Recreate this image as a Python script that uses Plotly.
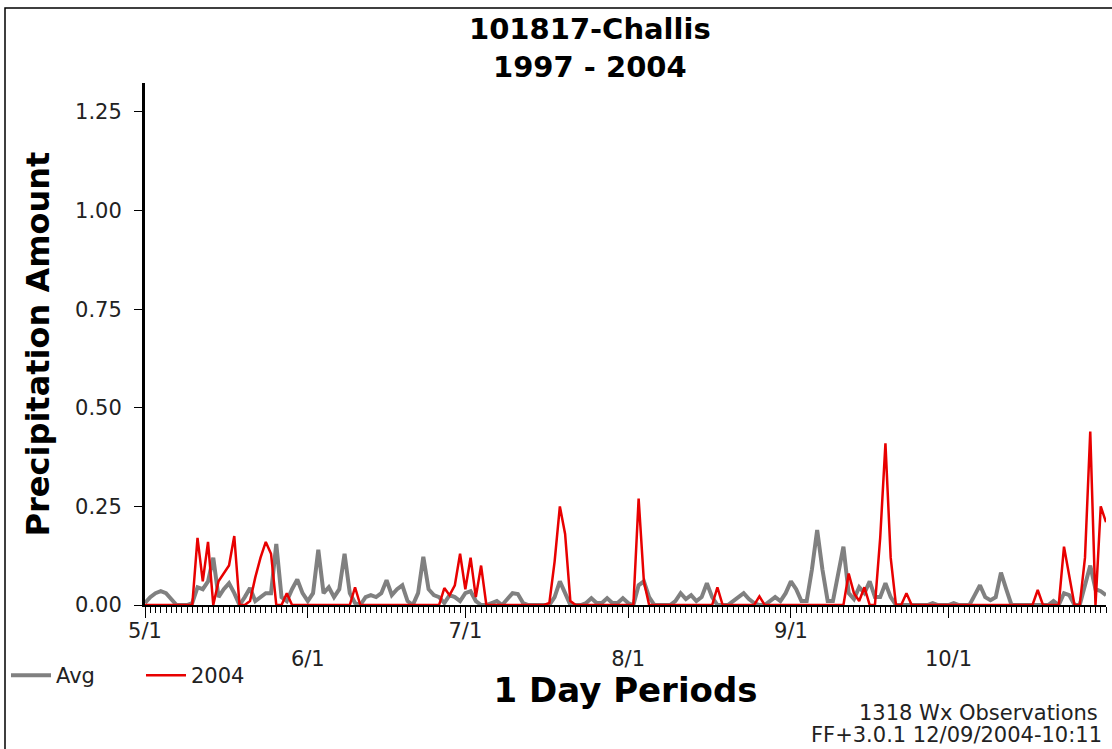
import plotly.graph_objects as go
import pandas as pd

# ---------------- data ----------------
start_date = "2004-05-01"
end_date = "2004-10-31"

avg_values = [
    0.005, 0.02, 0.03, 0.035, 0.03, 0.015, 0.0, 0.0, 0.0, 0.005,        # 0-9
    0.045, 0.04, 0.06, 0.12, 0.02, 0.04, 0.055, 0.03, 0.0, 0.02,         # 10-19
    0.043, 0.01, 0.02, 0.03, 0.03, 0.155, 0.02, 0.01, 0.04, 0.065,       # 20-29
    0.03, 0.01, 0.03, 0.14, 0.03, 0.045, 0.02, 0.04, 0.13, 0.03,         # 30-39
    0.005, 0.0, 0.02, 0.025, 0.02, 0.03, 0.063, 0.025, 0.04, 0.05,       # 40-49
    0.01, 0.0, 0.03, 0.122, 0.04, 0.025, 0.02, 0.005, 0.025, 0.02,       # 50-59
    0.01, 0.03, 0.035, 0.01, 0.0, 0.0, 0.005, 0.01, 0.0, 0.015,          # 60-69
    0.03, 0.028, 0.005, 0.0, 0.0, 0.0, 0.0, 0.0, 0.02, 0.06,             # 70-79
    0.03, 0.0, 0.0, 0.0, 0.005, 0.017, 0.005, 0.005, 0.017, 0.005,       # 80-89
    0.005, 0.017, 0.005, 0.0, 0.05, 0.06, 0.02, 0.0, 0.0, 0.0,           # 90-99
    0.0, 0.01, 0.03, 0.015, 0.025, 0.01, 0.02, 0.055, 0.02, 0.0,         # 100-109
    0.0, 0.0, 0.01, 0.02, 0.03, 0.015, 0.005, 0.0, 0.0, 0.01,            # 110-119
    0.02, 0.01, 0.03, 0.06, 0.04, 0.01, 0.01, 0.09, 0.19, 0.09,          # 120-129
    0.01, 0.01, 0.08, 0.148, 0.03, 0.015, 0.045, 0.03, 0.06, 0.02,       # 130-139
    0.02, 0.055, 0.02, 0.0, 0.0, 0.0, 0.0, 0.0, 0.0, 0.0,                # 140-149
    0.005, 0.0, 0.0, 0.0, 0.005, 0.0, 0.0, 0.0, 0.025, 0.05,             # 150-159
    0.02, 0.012, 0.02, 0.082, 0.04, 0.0, 0.0, 0.0, 0.0, 0.0,             # 160-169
    0.0, 0.0, 0.0, 0.01, 0.0, 0.03, 0.025, 0.0, 0.0, 0.05,               # 170-179
    0.1, 0.04, 0.035, 0.025,                                             # 180-183
]

values_2004 = [
    0.0, 0.0, 0.0, 0.0, 0.0, 0.0, 0.0, 0.0, 0.0, 0.0,                    # 0-9
    0.17, 0.06, 0.16, 0.0, 0.06, 0.08, 0.10, 0.175, 0.0, 0.0,            # 10-19
    0.01, 0.07, 0.12, 0.16, 0.13, 0.0, 0.0, 0.03, 0.0, 0.0,              # 20-29
    0.0, 0.0, 0.0, 0.0, 0.0, 0.0, 0.0, 0.0, 0.0, 0.0,                    # 30-39
    0.045, 0.0, 0.0, 0.0, 0.0, 0.0, 0.0, 0.0, 0.0, 0.0,                  # 40-49
    0.0, 0.0, 0.0, 0.0, 0.0, 0.0, 0.0, 0.043, 0.025, 0.05,               # 50-59
    0.13, 0.04, 0.12, 0.02, 0.10, 0.0, 0.0, 0.0, 0.0, 0.0,               # 60-69
    0.0, 0.0, 0.0, 0.0, 0.0, 0.0, 0.0, 0.005, 0.11, 0.25,                # 70-79
    0.18, 0.01, 0.0, 0.0, 0.0, 0.0, 0.0, 0.0, 0.0, 0.0,                  # 80-89
    0.0, 0.0, 0.0, 0.0, 0.27, 0.06, 0.0, 0.0, 0.0, 0.0,                  # 90-99
    0.0, 0.0, 0.0, 0.0, 0.0, 0.0, 0.0, 0.0, 0.0, 0.045,                  # 100-109
    0.0, 0.0, 0.0, 0.0, 0.0, 0.0, 0.0, 0.022, 0.0, 0.0,                  # 110-119
    0.0, 0.0, 0.0, 0.0, 0.0, 0.0, 0.0, 0.0, 0.0, 0.0,                    # 120-129
    0.0, 0.0, 0.0, 0.0, 0.08, 0.03, 0.01, 0.045, 0.0, 0.0,               # 130-139
    0.17, 0.41, 0.12, 0.0, 0.0, 0.03, 0.0, 0.0, 0.0, 0.0,                # 140-149
    0.0, 0.0, 0.0, 0.0, 0.0, 0.0, 0.0, 0.0, 0.0, 0.0,                    # 150-159
    0.0, 0.0, 0.0, 0.0, 0.0, 0.0, 0.0, 0.0, 0.0, 0.0,                    # 160-169
    0.038, 0.0, 0.0, 0.0, 0.0, 0.148, 0.07, 0.0, 0.0, 0.12,              # 170-179
    0.44, 0.0, 0.25, 0.21,                                               # 180-183
]

month_ticks = ["2004-05-01", "2004-06-01", "2004-07-01", "2004-08-01", "2004-09-01", "2004-10-01"]
month_labels = ["5/1", "<br>6/1", "7/1", "<br>8/1", "9/1", "<br>10/1"]
y_tick_values = [0.0, 0.25, 0.5, 0.75, 1.0, 1.25]
y_tick_labels = ["0.00", "0.25", "0.50", "0.75", "1.00", "1.25"]

dates = pd.date_range(start_date, end_date, freq="D")

# ---------------- figure ----------------
W, H = 1112, 749
L, R, T, B = 145, 6, 83, 144
pw, ph = W - L - R, H - T - B


def px(x):
    return (x - L) / pw


def py(y):
    return (H - B - y) / ph


FONT = "DejaVu Sans"

fig = go.Figure()
fig.add_trace(go.Scatter(x=dates, y=avg_values, name="Avg", mode="lines",
                         line=dict(color="#808080", width=4)))
fig.add_trace(go.Scatter(x=dates, y=values_2004, name="2004", mode="lines",
                         line=dict(color="#e80000", width=2.5)))

fig.update_layout(
    width=W, height=H,
    margin=dict(l=L, r=R, t=T, b=B, autoexpand=False),
    paper_bgcolor="white", plot_bgcolor="white",
    font=dict(family=FONT, size=21, color="#222"),
    showlegend=True,
    legend=dict(orientation="h", x=px(6), y=py(655), xanchor="left", yanchor="top",
                font=dict(family=FONT, size=21, color="#222"),
                bgcolor="rgba(0,0,0,0)", entrywidth=80, entrywidthmode="pixels",
                itemwidth=40),
)

fig.update_xaxes(
    range=[dates[0], dates[-1]],
    tickmode="array", tickvals=month_ticks, ticktext=month_labels,
    ticks="outside", ticklen=11, tickwidth=1, tickcolor="black",
    minor=dict(dtick=86400000, ticks="outside", ticklen=6, tickwidth=1, tickcolor="black",
               showgrid=False),
    showline=True, linecolor="black", linewidth=2,
    showgrid=False, zeroline=False,
    tickfont=dict(family=FONT, size=21, color="#222"),
    ticklabelstandoff=-5,
    title=dict(text="<b>1 Day Periods</b>", font=dict(family=FONT, size=34, color="black"),
               standoff=8),
)

fig.update_yaxes(
    range=[0, 1.3235],
    tickmode="array", tickvals=y_tick_values, ticktext=y_tick_labels,
    ticks="outside", ticklen=8, tickwidth=1, tickcolor="black",
    showline=True, linecolor="black", linewidth=3,
    showgrid=False, zeroline=False,
    tickfont=dict(family=FONT, size=21, color="#222"),
    ticklabelstandoff=8,
    title=dict(text="<b>Precipitation Amount</b>", font=dict(family=FONT, size=32, color="black"),
               standoff=16),
)

# two-line title as a single text block
fig.add_annotation(text="<b>101817-Challis</b><br><b>1997 - 2004</b>", xref="paper", yref="paper",
                   x=px(590), y=py(48), xanchor="center", yanchor="middle", showarrow=False,
                   font=dict(family=FONT, size=29, color="black"))

# footer notes
fig.add_annotation(text="1318 Wx Observations", xref="paper", yref="paper",
                   x=px(1100), y=py(713), xanchor="right", yanchor="middle", showarrow=False,
                   font=dict(family=FONT, size=21, color="#222"))
fig.add_annotation(text="FF+3.0.1 12/09/2004-10:11", xref="paper", yref="paper",
                   x=px(1104), y=py(735), xanchor="right", yanchor="middle", showarrow=False,
                   font=dict(family=FONT, size=21, color="#222"))

# outer frame
fig.add_shape(type="rect", xref="paper", yref="paper",
              x0=px(5), x1=px(1130), y0=py(770), y1=py(8),
              line=dict(color="black", width=1.5), fillcolor="rgba(0,0,0,0)", layer="below")

fig.write_html("out.html")
